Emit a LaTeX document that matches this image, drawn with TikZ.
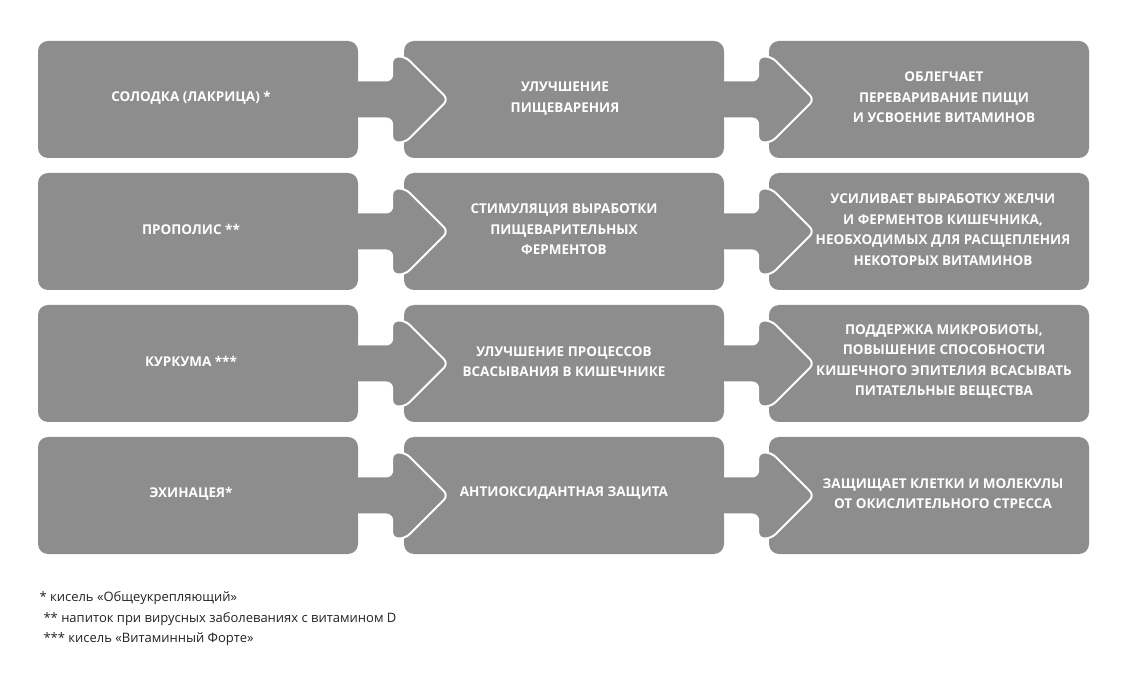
\documentclass[tikz,border=0pt]{standalone}
\usepackage{fontspec}
\setmainfont{Open Sans}
\definecolor{boxgray}{HTML}{8D8D8D}
\definecolor{notegray}{HTML}{222222}
\begin{document}
\begin{tikzpicture}[
    x=1pt, y=-1pt,
    card/.style={fill=boxgray, rounded corners=10pt, minimum width=320pt,
      minimum height=117pt, inner sep=0pt},
    cardtext/.style={text=white, align=center,
      font=\bfseries\fontsize{13.5}{20.5}\selectfont},
    tab/.style={fill=boxgray, draw=white, line width=2pt, rounded corners=6pt},
    note/.style={anchor=base west, text=notegray,
      font=\fontsize{13}{16}\selectfont}
  ]
  \useasboundingbox (0,0) rectangle (1128,684);
  % cards
  \node[card] (b11) at (198,99.5) {};
  \node[card] (b12) at (564,99.5) {};
  \node[card] (b13) at (929,99.5) {};
  \node[card] (b21) at (198,231.5) {};
  \node[card] (b22) at (564,231.5) {};
  \node[card] (b23) at (929,231.5) {};
  \node[card] (b31) at (198,363.5) {};
  \node[card] (b32) at (564,363.5) {};
  \node[card] (b33) at (929,363.5) {};
  \node[card] (b41) at (198,495.5) {};
  \node[card] (b42) at (564,495.5) {};
  \node[card] (b43) at (929,495.5) {};
  % tabs between the cards
  \foreach \a in {b11,b12,b21,b22,b31,b32,b41,b42}
    \path[tab, shift={(\a.east)}] (0,-19) -- (34,-19) -- (34,-43) -- (47,-43)
      -- (90,0) -- (47,43) -- (34,43) -- (34,19) -- (0,19);
  % texts
  \node[cardtext] (t11) at ([xshift=-7pt,yshift=2pt]b11.center) {СОЛОДКА (ЛАКРИЦА) *};
  \node[cardtext] (t12) at ([xshift=1pt,yshift=1pt]b12.center) {УЛУЧШЕНИЕ\\ПИЩЕВАРЕНИЯ};
  \node[cardtext] (t13) at ([xshift=15pt,yshift=2pt]b13.center) {ОБЛЕГЧАЕТ\\ПЕРЕВАРИВАНИЕ ПИЩИ\\И УСВОЕНИЕ ВИТАМИНОВ};
  \node[cardtext] (t21) at ([xshift=-7pt,yshift=2pt]b21.center) {ПРОПОЛИС **};
  \node[cardtext] (t22) at ([yshift=2pt]b22.center) {СТИМУЛЯЦИЯ ВЫРАБОТКИ\\ПИЩЕВАРИТЕЛЬНЫХ\\ФЕРМЕНТОВ};
  \node[cardtext] (t23) at ([xshift=14pt,yshift=2pt]b23.center) {УСИЛИВАЕТ ВЫРАБОТКУ ЖЕЛЧИ\\И ФЕРМЕНТОВ КИШЕЧНИКА,\\НЕОБХОДИМЫХ ДЛЯ РАСЩЕПЛЕНИЯ\\НЕКОТОРЫХ ВИТАМИНОВ};
  \node[cardtext] (t31) at ([xshift=-7pt,yshift=2pt]b31.center) {КУРКУМА ***};
  \node[cardtext] (t32) at ([yshift=2pt]b32.center) {УЛУЧШЕНИЕ ПРОЦЕССОВ\\ВСАСЫВАНИЯ В КИШЕЧНИКЕ};
  \node[cardtext] (t33) at ([xshift=15pt,yshift=2pt]b33.center) {ПОДДЕРЖКА МИКРОБИОТЫ,\\ПОВЫШЕНИЕ СПОСОБНОСТИ\\КИШЕЧНОГО ЭПИТЕЛИЯ ВСАСЫВАТЬ\\ПИТАТЕЛЬНЫЕ ВЕЩЕСТВА};
  \node[cardtext] (t41) at ([xshift=-7pt,yshift=2pt]b41.center) {ЭХИНАЦЕЯ*};
  \node[cardtext] (t42) at ([yshift=2pt]b42.center) {АНТИОКСИДАНТНАЯ ЗАЩИТА};
  \node[cardtext] (t43) at ([xshift=14pt,yshift=2pt]b43.center) {ЗАЩИЩАЕТ КЛЕТКИ И МОЛЕКУЛЫ\\ОТ ОКИСЛИТЕЛЬНОГО СТРЕССА};
  % footnotes
  \node[note] (n1) at (36,601) {* кисель «Общеукрепляющий»};
  \node[note] (n2) at (40,622) {** напиток при вирусных заболеваниях с витамином D};
  \node[note] (n3) at (40,642) {*** кисель «Витаминный Форте»};
\end{tikzpicture}
\end{document}
